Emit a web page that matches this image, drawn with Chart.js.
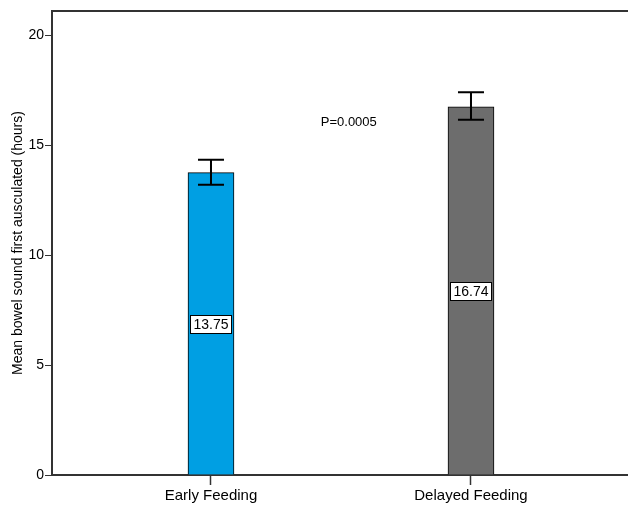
<!DOCTYPE html>
<html>
<head>
<meta charset="utf-8">
<script src="https://cdn.jsdelivr.net/npm/chart.js@4/dist/chart.umd.min.js"></script>
<style>
html,body{margin:0;padding:0;background:#fff;}
#wrap{width:628px;height:506px;position:relative;}
</style>
</head>
<body>
<div id="wrap"><canvas id="c" width="628" height="506"></canvas></div>
<script>
// ---- data ----
const categories = ['Early Feeding', 'Delayed Feeding'];
const means = [13.75, 16.74];
const errLow = [13.20, 16.16];
const errHigh = [14.34, 17.40];
const barColors = ['#009FE3', '#6D6D6D'];
const yTicks = [0, 5, 10, 15, 20];
const yTitle = 'Mean bowel sound first ausculated (hours)';
const pText = 'P=0.0005';
const pPos = [0.53, 16.05]; // in data units (category index, value)

const FONT = "'Liberation Sans', Arial, sans-serif";

const overlay = {
  id: 'overlay',
  afterDatasetsDraw(chart) {
    const ctx = chart.ctx;
    const xs = chart.scales.x, ys = chart.scales.y;
    const ca = chart.chartArea;
    ctx.save();
    // top frame line
    ctx.strokeStyle = '#333';
    ctx.lineWidth = 2;
    ctx.beginPath();
    ctx.moveTo(ca.left - 1, ca.top);
    ctx.lineTo(chart.width, ca.top);
    ctx.stroke();
    // error bars
    ctx.strokeStyle = '#000';
    ctx.lineWidth = 2;
    categories.forEach((c, i) => {
      const x = xs.getPixelForValue(i);
      const yl = ys.getPixelForValue(errLow[i]);
      const yh = ys.getPixelForValue(errHigh[i]);
      const cap = 13;
      ctx.beginPath();
      ctx.moveTo(x, yl); ctx.lineTo(x, yh);
      ctx.moveTo(x - cap, yl); ctx.lineTo(x + cap, yl);
      ctx.moveTo(x - cap, yh); ctx.lineTo(x + cap, yh);
      ctx.stroke();
    });
    // value labels
    ctx.font = '14px ' + FONT;
    ctx.textAlign = 'center';
    ctx.textBaseline = 'middle';
    categories.forEach((c, i) => {
      const x = xs.getPixelForValue(i);
      const y = ys.getPixelForValue(means[i] / 2);
      const txt = means[i].toFixed(2);
      const w = ctx.measureText(txt).width + 6;
      const h = 18;
      ctx.fillStyle = '#fff';
      ctx.fillRect(Math.round(x - w / 2) + 0.5, Math.round(y - h / 2) + 0.5, Math.round(w), h);
      ctx.strokeStyle = '#000';
      ctx.lineWidth = 1;
      ctx.strokeRect(Math.round(x - w / 2) + 0.5, Math.round(y - h / 2) + 0.5, Math.round(w), h);
      ctx.fillStyle = '#000';
      ctx.fillText(txt, x, y + 1);
    });
    // p-value
    ctx.font = '13px ' + FONT;
    ctx.fillStyle = '#000';
    ctx.fillText(pText, xs.getPixelForValue(pPos[0]), ys.getPixelForValue(pPos[1]));
    ctx.restore();
  }
};

new Chart(document.getElementById('c'), {
  type: 'bar',
  data: {
    datasets: [{
      data: categories.map((c, i) => ({ x: i, y: means[i] })),
      backgroundColor: barColors,
      borderColor: '#000',
      borderWidth: 1,
      barThickness: 46
    }]
  },
  options: {
    responsive: false,
    animation: false,
    events: [],
    layout: { padding: { top: 11, right: 0, left: 0, bottom: 0 } },
    plugins: { legend: { display: false }, tooltip: { enabled: false } },
    scales: {
      x: {
        type: 'linear',
        offset: false,
        min: -0.6115,
        max: 1.6039,
        afterBuildTicks(scale) { scale.ticks = categories.map((c, i) => ({ value: i })); },
        afterFit(scale) { scale.height = 31; },
        ticks: {
          callback: (v) => categories[v] ?? '',
          color: '#000',
          font: { family: FONT, size: 15 },
          padding: 2,
          maxRotation: 0,
          autoSkip: false
        },
        grid: { display: true, offset: false, drawOnChartArea: false, drawTicks: true, tickLength: 10, color: '#333', tickWidth: 1.5 },
        border: { display: true, color: '#333', width: 2 }
      },
      y: {
        min: 0,
        max: 21.1,
        afterBuildTicks(scale) { scale.ticks = yTicks.map(v => ({ value: v })); },
        afterFit(scale) { scale.width = 52; },
        ticks: {
          color: '#000',
          font: { family: FONT, size: 14 },
          padding: 1
        },
        grid: { display: true, drawOnChartArea: false, drawTicks: true, tickLength: 7, color: '#333', tickWidth: 1 },
        border: { display: true, color: '#333', width: 2 },
        title: {
          display: true,
          text: yTitle,
          color: '#000',
          font: { family: FONT, size: 14 },
          padding: { top: 10, bottom: 0 }
        }
      }
    }
  },
  plugins: [overlay]
});
</script>
</body>
</html>
